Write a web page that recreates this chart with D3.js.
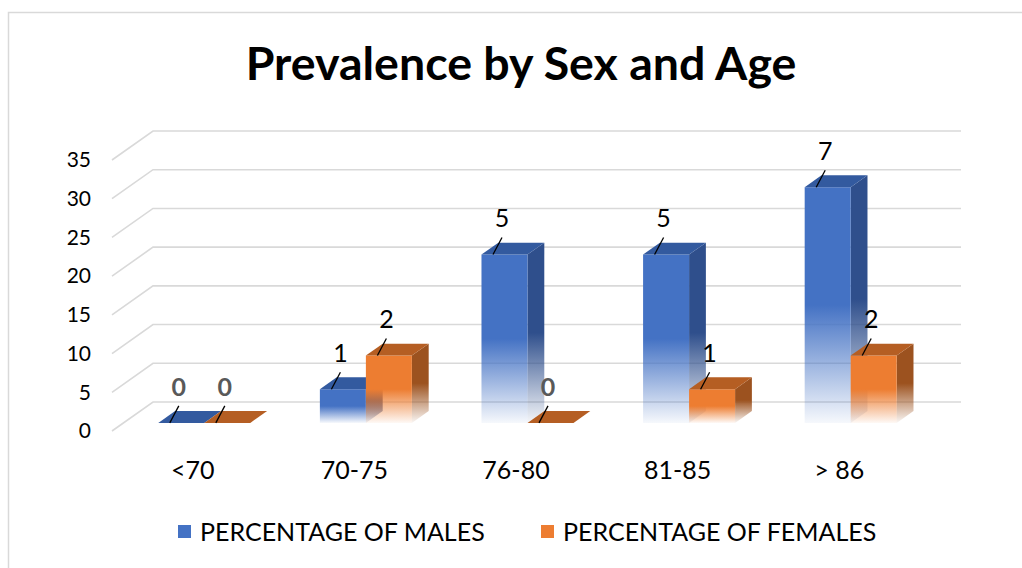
<!DOCTYPE html>
<html>
<head>
<meta charset="utf-8">
<script src="https://cdn.jsdelivr.net/npm/d3@7"></script>
<style>
  body { margin: 0; background: #fff; }
  svg text { font-family: Lato, "Open Sans", sans-serif; }
</style>
</head>
<body>
<div id="wrapper"></div>
<script>
// data
const ageGroups = ["<70", "70-75", "76-80", "81-85", "> 86"]
const seriesNames = ["PERCENTAGE OF MALES", "PERCENTAGE OF FEMALES"]
// bar heights (percent of all 23 cases) and the counts shown as labels
const malesPct = [0, 4.35, 21.74, 21.74, 30.43]
const femalesPct = [0, 8.70, 0, 4.35, 8.70]
const malesCount = [0, 1, 5, 5, 7]
const femalesCount = [0, 2, 0, 1, 2]
const yTicks = [0, 5, 10, 15, 20, 25, 30, 35]

const width = 1022
const height = 568

const svg = d3.select("#wrapper")
  .append("svg")
  .attr("width", width)
  .attr("height", height)

// chart frame
svg.append("rect")
  .attr("x", 8.5).attr("y", 12.5)
  .attr("width", 1030).attr("height", 600)
  .attr("fill", "none")
  .attr("stroke", "#d9d9d9")
  .attr("stroke-width", 1.5)

svg.append("text")
  .attr("x", 521).attr("y", 80)
  .attr("text-anchor", "middle")
  .attr("font-size", 46.5)
  .attr("font-weight", 700)
  .attr("fill", "#000")
  .text("Prevalence by Sex and Age")

// scales (front plane)
const x = d3.scaleBand()
  .domain(ageGroups)
  .range([112, 920])

const y = d3.scaleLinear()
  .domain([0, 35])
  .range([431, 160])

// oblique depth projection
const depthX = 41
const depthY = -29
const proj = (px, v, z) => [px + z * depthX, y(v) + z * depthY]

// back wall gridlines + side diagonals
const grid = svg.append("g")
yTicks.forEach(t => {
  const [x0, y0] = proj(x.range()[0], t, 0)
  const [x1, y1] = proj(x.range()[0], t, 1)
  const [x2, y2] = proj(x.range()[1], t, 1)
  grid.append("path")
    .attr("d", `M${x0},${y0}L${x1},${y1}L${x2},${y2}`)
    .attr("fill", "none")
    .attr("stroke", "#d9d9d9")
    .attr("stroke-width", 1.6)
})

// y axis labels
svg.append("g").selectAll("text")
  .data(yTicks)
  .join("text")
  .attr("x", 91)
  .attr("y", d => y(d))
  .attr("dy", "0.35em")
  .attr("text-anchor", "end")
  .attr("font-size", 21)
  .attr("fill", "#000")
  .text(d => d)

// x axis labels
svg.append("g").selectAll("text")
  .data(ageGroups)
  .join("text")
  .attr("x", d => x(d) + x.bandwidth() / 2)
  .attr("y", 470)
  .attr("dy", "0.35em")
  .attr("text-anchor", "middle")
  .attr("font-size", 25)
  .attr("fill", "#000")
  .text(d => d)

// gradients
const defs = svg.append("defs")
const palette = [
  { front: "#4472c4", side: "#2f4f8c", top: "#335a9f", key: "m" },
  { front: "#ed7d31", side: "#9c521f", top: "#b55e23", key: "f" },
]
palette.forEach(p => {
  ["front", "side"].forEach(face => {
    const g = defs.append("linearGradient")
      .attr("id", `g-${p.key}-${face}`)
      .attr("x1", 0).attr("y1", 0).attr("x2", 0).attr("y2", 1)
    g.append("stop").attr("offset", 0).attr("stop-color", p[face]).attr("stop-opacity", 1)
    g.append("stop").attr("offset", 0.5).attr("stop-color", p[face]).attr("stop-opacity", 1)
    g.append("stop").attr("offset", 1).attr("stop-color", p[face]).attr("stop-opacity", 0.05)
  })
})

// bars
const barW = 46
const zFront = 0.28
const zBack = 0.69

const bars = []
ageGroups.forEach((g, i) => {
  const c = x(g) + x.bandwidth() / 2
  bars.push({ s: 0, x0: c - barW, v: malesPct[i], n: malesCount[i] })
  bars.push({ s: 1, x0: c, v: femalesPct[i], n: femalesCount[i] })
})

const pt = p => p.join(",")
const barG = svg.append("g")
bars.forEach(b => {
  const p = palette[b.s]
  const x1 = b.x0 + barW
  const fbl = proj(b.x0, 0, zFront), fbr = proj(x1, 0, zFront)
  const ftl = proj(b.x0, b.v, zFront), ftr = proj(x1, b.v, zFront)
  const btl = proj(b.x0, b.v, zBack), btr = proj(x1, b.v, zBack)
  const bbr = proj(x1, 0, zBack)
  if (b.v > 0) {
    barG.append("path")
      .attr("d", `M${pt(fbr)}L${pt(ftr)}L${pt(btr)}L${pt(bbr)}Z`)
      .attr("fill", `url(#g-${p.key}-side)`)
    barG.append("path")
      .attr("d", `M${pt(fbl)}L${pt(ftl)}L${pt(ftr)}L${pt(fbr)}Z`)
      .attr("fill", `url(#g-${p.key}-front)`)
  }
  barG.append("path")
    .attr("d", `M${pt(ftl)}L${pt(btl)}L${pt(btr)}L${pt(ftr)}Z`)
    .attr("fill", p.top)

  // leader line + data label
  const cx = b.x0 + barW / 2
  const top = ftl[1]
  barG.append("line")
    .attr("x1", cx).attr("y1", top)
    .attr("x2", cx + 9).attr("y2", top - 17)
    .attr("stroke", "#000")
    .attr("stroke-width", 1.3)
  barG.append("text")
    .attr("x", cx + 9)
    .attr("y", top - 36)
    .attr("dy", "0.35em")
    .attr("text-anchor", "middle")
    .attr("font-size", 25)
    .attr("font-weight", b.n === 0 ? 700 : 400)
    .attr("fill", b.n === 0 ? "#595959" : "#000")
    .text(b.n)
})

// legend
const legend = svg.append("g")
const legendX = [178, 541]
seriesNames.forEach((name, i) => {
  legend.append("rect")
    .attr("x", legendX[i]).attr("y", 525)
    .attr("width", 13).attr("height", 13)
    .attr("fill", palette[i].front)
  legend.append("text")
    .attr("x", legendX[i] + 22).attr("y", 532)
    .attr("dy", "0.35em")
    .attr("font-size", 25)
    .attr("fill", "#000")
    .text(name)
})
</script>
</body>
</html>
